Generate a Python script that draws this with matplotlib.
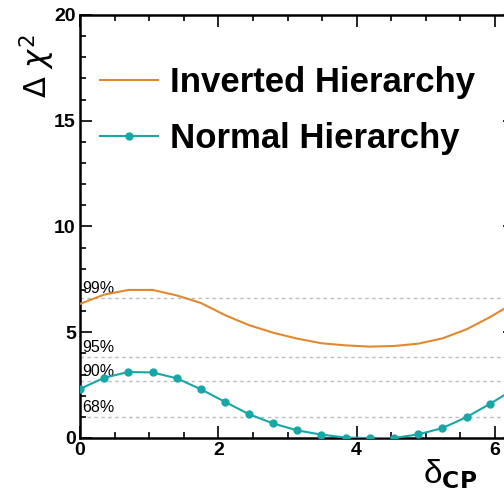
import numpy as np
import matplotlib
matplotlib.use("Agg")
import matplotlib.pyplot as plt
from matplotlib.ticker import MultipleLocator

plt.rcParams['font.family'] = ['Liberation Sans', 'DejaVu Sans']
plt.rcParams['mathtext.fontset'] = 'dejavusans'

# delta_CP scan points (radians)
delta_cp = [0.00, 0.35, 0.70, 1.05, 1.40, 1.75, 2.09, 2.44, 2.79, 3.14,
            3.49, 3.84, 4.19, 4.54, 4.89, 5.24, 5.59, 5.93, 6.28]

# delta chi2 for each hierarchy
chi2_ih = [6.34, 6.78, 7.00, 7.00, 6.74, 6.38, 5.82, 5.34, 4.98, 4.70,
           4.48, 4.38, 4.32, 4.35, 4.46, 4.71, 5.14, 5.72, 6.40]
chi2_nh = [2.32, 2.85, 3.12, 3.10, 2.82, 2.30, 1.72, 1.13, 0.69, 0.36,
           0.16, 0.02, 0.00, 0.00, 0.17, 0.47, 0.99, 1.62, 2.32]

# confidence level lines
cl_labels = ['68%', '90%', '95%', '99%']
cl_values = [1.00, 2.71, 3.84, 6.63]

c_ih = '#E2892F'
c_nh = '#17A7A7'

fig = plt.figure(figsize=(5.04, 4.97), dpi=100)
ax = fig.add_axes([80 / 504, 59 / 497, 434.6 / 504, 423 / 497])

for lab, v in zip(cl_labels, cl_values):
    ax.axhline(v, color='#bdbdbd', lw=1.0, ls=(0, (2.5, 2.5)), zorder=1)
    ax.text(0.03, v + 0.1, lab, fontsize=11.5, va='bottom', ha='left', zorder=2)

ax.plot(delta_cp, chi2_ih, color=c_ih, lw=1.5, label='Inverted Hierarchy', zorder=3)
ax.plot(delta_cp, chi2_nh, color=c_nh, lw=1.5, marker='o', ms=5,
        label='Normal Hierarchy', zorder=3)

ax.set_xlim(0, 2 * np.pi)
ax.set_ylim(0, 20)
ax.xaxis.set_major_locator(MultipleLocator(2))
ax.xaxis.set_minor_locator(MultipleLocator(0.5))
ax.yaxis.set_major_locator(MultipleLocator(5))
ax.yaxis.set_minor_locator(MultipleLocator(1))

ax.tick_params(which='both', direction='in', top=True, right=True, width=1.2)
ax.tick_params(which='major', length=8.5, labelsize=14, pad=3)
ax.tick_params(which='minor', length=4.5)
for lbl in ax.get_xticklabels() + ax.get_yticklabels():
    lbl.set_fontweight('bold')
for sp in ax.spines.values():
    sp.set_linewidth(1.8)

fig.text(37 / 504, 1 - 66 / 497, r'$\Delta\ \chi^{2}$', rotation=90,
         fontsize=22, ha='center', va='center')
fig.text(450 / 504, 1 - 474 / 497, r'δ$_{\mathbf{CP}}$',
         fontsize=24, ha='center', va='center')

leg = ax.legend(loc='upper left', bbox_to_anchor=(0.046, 0.879), frameon=False,
                prop={'size': 25, 'weight': 'bold'}, handlelength=1.67,
                handletextpad=0.35, labelspacing=0.67,
                borderpad=0, borderaxespad=0)

fig.savefig('out.png', dpi=100)
